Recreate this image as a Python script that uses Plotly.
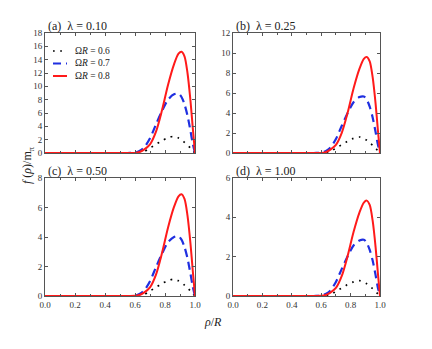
import plotly.graph_objects as go

W, H = 432, 349

rho = [0, 0.55, 0.6, 0.63, 0.66, 0.7, 0.74, 0.78, 0.82, 0.86, 0.89, 0.91, 0.93, 0.95, 0.97, 0.985, 1.0]

# panel (a) lambda = 0.10
a_06 = [0, 0, 0, 0.05, 0.2, 0.75, 1.3, 1.85, 2.3, 2.5, 2.25, 2.0, 1.6, 1.2, 0.75, 0.35, 0]
a_07 = [0, 0, 0.05, 0.3, 0.8, 2.2, 4.3, 6.3, 8.0, 8.8, 8.9, 8.4, 7.3, 5.6, 3.3, 1.4, 0]
a_08 = [0, 0, 0.02, 0.15, 0.5, 1.3, 3.2, 6.4, 10.2, 13.3, 14.9, 15.2, 14.5, 12.0, 7.8, 3.8, 0]
# panel (b) lambda = 0.25
b_06 = [0, 0, 0, 0.03, 0.13, 0.48, 0.83, 1.18, 1.47, 1.60, 1.44, 1.28, 1.02, 0.77, 0.48, 0.22, 0]
b_07 = [0, 0, 0.03, 0.19, 0.51, 1.40, 2.73, 4.00, 5.08, 5.59, 5.65, 5.33, 4.64, 3.56, 2.10, 0.89, 0]
b_08 = [0, 0, 0.01, 0.09, 0.32, 0.82, 2.02, 4.04, 6.45, 8.41, 9.42, 9.61, 9.16, 7.58, 4.93, 2.40, 0]
# panel (c) lambda = 0.50
c_06 = [0, 0, 0, 0.02, 0.09, 0.34, 0.59, 0.84, 1.05, 1.14, 1.03, 0.91, 0.73, 0.55, 0.34, 0.16, 0]
c_07 = [0, 0, 0.02, 0.14, 0.36, 1.00, 1.96, 2.87, 3.64, 4.00, 4.05, 3.82, 3.32, 2.55, 1.50, 0.64, 0]
c_08 = [0, 0, 0.01, 0.07, 0.23, 0.59, 1.45, 2.91, 4.63, 6.04, 6.76, 6.90, 6.58, 5.45, 3.54, 1.73, 0]
# panel (d) lambda = 1.00
d_06 = [0, 0, 0, 0.02, 0.06, 0.23, 0.41, 0.58, 0.72, 0.78, 0.70, 0.62, 0.50, 0.37, 0.23, 0.11, 0]
d_07 = [0, 0, 0.02, 0.10, 0.26, 0.71, 1.38, 2.02, 2.57, 2.82, 2.86, 2.70, 2.34, 1.80, 1.06, 0.45, 0]
d_08 = [0, 0, 0.01, 0.05, 0.16, 0.41, 1.02, 2.04, 3.25, 4.24, 4.75, 4.85, 4.63, 3.83, 2.49, 1.21, 0]

panel_labels = ["(a)  λ = 0.10", "(b)  λ = 0.25", "(c)  λ = 0.50", "(d)  λ = 1.00"]
y_max = [18, 12, 8, 6]
series_names = ["Ω<i>R</i> = 0.6", "Ω<i>R</i> = 0.7", "Ω<i>R</i> = 0.8"]
x_ticks = [0.0, 0.2, 0.4, 0.6, 0.8, 1.0]
x_ticktext = ["0.0", "0.2", "0.4", "0.6", "0.8", "1.0"]

panels = [(a_06, a_07, a_08), (b_06, b_07, b_08), (c_06, c_07, c_08), (d_06, d_07, d_08)]

# pixel boxes (left, right, top, bottom)
boxes = [(45, 195, 33, 153), (233, 380, 33, 153), (45, 195, 178, 296), (233, 380, 178, 296)]

styles = [
    dict(color="black", width=1.7, dash="1.7px,5.5px"),
    dict(color="#1f2fe0", width=2.2, dash="8px,5px"),
    dict(color="#ff1a1a", width=2.0, dash="solid"),
]

FONT = "Liberation Serif"
fig = go.Figure()

for i, (series, box) in enumerate(zip(panels, boxes)):
    xa = "x" if i == 0 else f"x{i+1}"
    ya = "y" if i == 0 else f"y{i+1}"
    for s, st in zip(series, styles):
        fig.add_trace(go.Scatter(x=rho, y=s, mode="lines", xaxis=xa, yaxis=ya,
                                 line=dict(color=st["color"], width=st["width"], dash=st["dash"],
                                           shape="spline", smoothing=0.8),
                                 showlegend=False, hoverinfo="skip"))
    l, r, t, b = box
    axname = "xaxis" if i == 0 else f"xaxis{i+1}"
    ayname = "yaxis" if i == 0 else f"yaxis{i+1}"
    fig.layout[axname] = dict(domain=[l / W, r / W], range=[0, 1], anchor=ya, automargin=False,
                              showline=True, mirror="ticks", linecolor="#555", linewidth=1,
                              ticks="inside", ticklen=3, tickcolor="#555",
                              tickvals=x_ticks, ticktext=x_ticktext,
                              showticklabels=(i >= 2), showgrid=False, zeroline=False,
                              minor=dict(dtick=0.1, ticks="inside", ticklen=2, tickcolor="#555"),
                              tickfont=dict(family=FONT, size=9, color="#333"))
    fig.layout[ayname] = dict(domain=[1 - b / H, 1 - t / H], range=[0, y_max[i]], anchor=xa,
                              automargin=False,
                              showline=True, mirror="ticks", linecolor="#555", linewidth=1,
                              ticks="inside", ticklen=3, tickcolor="#555", dtick=2,
                              showgrid=False, zeroline=False,
                              tickfont=dict(family=FONT, size=9, color="#333"))
    fig.add_annotation(text=panel_labels[i], xref="paper", yref="paper",
                       x=(l + 1) / W, y=1 - (t - 7) / H, xanchor="left", yanchor="middle",
                       showarrow=False, font=dict(family=FONT, size=12, color="#222"))

# legend drawn inside panel (a)
leg_y = [51, 63.5, 76]
for name, st, yy in zip(series_names, styles, leg_y):
    fig.add_shape(type="line", xref="paper", yref="paper",
                  x0=53 / W, x1=67 / W, y0=1 - yy / H, y1=1 - yy / H,
                  line=dict(color=st["color"], width=st["width"], dash=st["dash"]))
    fig.add_annotation(text=name, xref="paper", yref="paper", x=73 / W, y=1 - yy / H,
                       xanchor="left", yanchor="middle", showarrow=False,
                       font=dict(family=FONT, size=9.5, color="#222"))

# axis titles
fig.add_annotation(text="<i>f</i> (<i>ρ</i>)/m<sub>π</sub>", xref="paper", yref="paper",
                   x=28 / W, y=1 - 165 / H, textangle=-90, showarrow=False,
                   xanchor="center", yanchor="middle",
                   font=dict(family=FONT, size=12, color="#222"))
fig.add_annotation(text="<i>ρ</i>/<i>R</i>", xref="paper", yref="paper",
                   x=213 / W, y=1 - 322 / H, showarrow=False,
                   xanchor="center", yanchor="middle",
                   font=dict(family=FONT, size=12, color="#222"))

fig.update_layout(width=W, height=H, margin=dict(l=0, r=0, t=0, b=0, autoexpand=False),
                  paper_bgcolor="white", plot_bgcolor="white", showlegend=False)

fig.write_html("out.html", config={"displayModeBar": False, "staticPlot": True},
               post_script="document.body.style.margin='0';document.body.style.overflow='hidden';")
